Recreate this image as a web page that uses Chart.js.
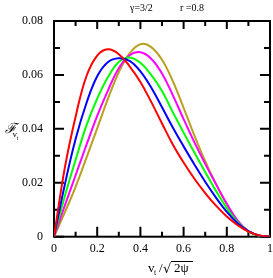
<!DOCTYPE html>
<html><head><meta charset="utf-8">
<style>html,body{margin:0;padding:0;background:#fff;overflow:hidden}canvas{display:block}</style>
<script src="https://cdn.jsdelivr.net/npm/chart.js@4.4.1/dist/chart.umd.min.js"></script>
</head><body>
<canvas id="c" width="273" height="278"></canvas>
<script>
// v_t / sqrt(2 psi)
const vt = [0,0.05,0.1,0.15,0.2,0.25,0.3,0.35,0.4,0.45,0.5,0.55,0.6,0.65,0.7,0.75,0.8,0.85,0.9,0.95,1];
const redSeries     = [0,0.0255,0.0445,0.0595,0.0672,0.0695,0.0677,0.0632,0.0574,0.0500,0.0420,0.0342,0.0275,0.0215,0.0162,0.0115,0.0075,0.0043,0.0019,0.0005,0];
const blueSeries    = [0,0.0193,0.0362,0.0495,0.0595,0.0648,0.0662,0.0652,0.0613,0.0553,0.0480,0.0405,0.0335,0.0268,0.0204,0.0145,0.0092,0.0050,0.0021,0.0005,0];
const greenSeries   = [0,0.0150,0.0285,0.0412,0.0512,0.0592,0.0648,0.0665,0.0645,0.0600,0.0540,0.0462,0.0386,0.0312,0.0240,0.0170,0.0106,0.0054,0.0020,0.0004,0];
const magentaSeries = [0,0.0115,0.0228,0.0340,0.0448,0.0543,0.0625,0.0673,0.0684,0.0660,0.0605,0.0525,0.0436,0.0350,0.0270,0.0195,0.0122,0.0060,0.0021,0.0004,0];
const oliveSeries   = [0,0.0090,0.0185,0.0292,0.0402,0.0512,0.0610,0.0680,0.0714,0.0703,0.0656,0.0577,0.0478,0.0375,0.0280,0.0195,0.0120,0.0058,0.0020,0.0003,0];

const xTickValues = [0,0.2,0.4,0.6,0.8,1];
const xTickLabels = ['0','0.2','0.4','0.6','0.8','1'];
const xMinorTicks = [0.1,0.3,0.5,0.7,0.9];
const yTickValues = [0,0.02,0.04,0.06,0.08];
const yTickLabels = ['0','0.02','0.04','0.06','0.08'];
const yMinorTicks = [0.01,0.03,0.05,0.07];

const SERIF = '"Liberation Serif","Times New Roman",serif';

function pts(arr){ return vt.map((v,i)=>({x:v,y:arr[i]})); }
function ds(arr,color){
  return {data:pts(arr), borderColor:color, backgroundColor:color, borderWidth:2,
          pointRadius:0, tension:0.4, fill:false};
}

const framePlugin = {
  id:'frame',
  beforeDatasetsDraw(chart){
    const {ctx, chartArea:{left,right,top,bottom}, scales:{x,y}} = chart;
    ctx.save();
    ctx.strokeStyle='#000';
    ctx.lineWidth=2;
    ctx.strokeRect(left,top,right-left,bottom-top);
    const MAJ=10, MIN=5;
    ctx.beginPath();
    xTickValues.forEach(v=>{const p=x.getPixelForValue(v);
      ctx.moveTo(p,bottom);ctx.lineTo(p,bottom-MAJ);ctx.moveTo(p,top);ctx.lineTo(p,top+MAJ-2);});
    xMinorTicks.forEach(v=>{const p=x.getPixelForValue(v);
      ctx.moveTo(p,bottom);ctx.lineTo(p,bottom-MIN);ctx.moveTo(p,top);ctx.lineTo(p,top+MIN);});
    yTickValues.forEach(v=>{const p=y.getPixelForValue(v);
      ctx.moveTo(left,p);ctx.lineTo(left+MAJ,p);ctx.moveTo(right,p);ctx.lineTo(right-MAJ,p);});
    yMinorTicks.forEach(v=>{const p=y.getPixelForValue(v);
      ctx.moveTo(left,p);ctx.lineTo(left+MIN+1,p);ctx.moveTo(right,p);ctx.lineTo(right-MIN-1,p);});
    ctx.stroke();
    ctx.restore();
  },
  afterDraw(chart){
    const ctx = chart.ctx;
    ctx.save();
    ctx.fillStyle='#000';
    ctx.textBaseline='alphabetic';
    ctx.textAlign='left';
    // title
    ctx.font='10px '+SERIF;
    ctx.fillText('γ=3/2',130,11);
    ctx.fillText('r =0.8',180,11);
    // y title
    ctx.font='italic 14px "DejaVu Serif",'+SERIF;
    ctx.fillText('ℱ',5,133);
    ctx.font='9px '+SERIF;
    ctx.fillText('v',12.5,137);
    ctx.font='6px '+SERIF;
    ctx.fillText('t',16.8,139.5);
    // x title
    ctx.font='13px '+SERIF;
    ctx.fillText('v',148,272);
    ctx.font='8px '+SERIF;
    ctx.fillText('t',154,275);
    ctx.font='13px '+SERIF;
    ctx.fillText('/',159,272);
    ctx.font='13px "DejaVu Sans",'+SERIF;
    ctx.fillText('√',163,273);
    ctx.font='13px '+SERIF;
    ctx.fillText('2ψ',174,272);
    ctx.lineWidth=1;
    ctx.beginPath();ctx.moveTo(171,261.5);ctx.lineTo(193,261.5);ctx.stroke();
    ctx.restore();
  }
};

new Chart(document.getElementById('c'),{
  type:'line',
  data:{datasets:[
    ds(redSeries,'#ff0000'),
    ds(blueSeries,'#0000ff'),
    ds(greenSeries,'#00ff00'),
    ds(magentaSeries,'#ff00ff'),
    ds(oliveSeries,'#b8a020')
  ]},
  options:{
    responsive:false, animation:false, devicePixelRatio:1,
    layout:{padding:{top:21,right:3,left:0,bottom:0}},
    plugins:{legend:{display:false},tooltip:{enabled:false},title:{display:false}},
    scales:{
      x:{type:'linear',min:0,max:1,
         afterBuildTicks(s){s.ticks=xTickValues.map(v=>({value:v}));},
         afterFit(s){s.height=41.3;s.paddingLeft=0;s.paddingRight=0;},
         ticks:{callback:(v,i)=>xTickLabels[i],padding:5,color:'#000',maxRotation:0,autoSkip:false,
                font:{family:SERIF,size:12}},
         grid:{display:false,drawTicks:false},border:{display:false}},
      y:{type:'linear',min:0,max:0.08,
         afterBuildTicks(s){s.ticks=yTickValues.map(v=>({value:v}));},
         afterFit(s){s.width=54;s.paddingTop=0;s.paddingBottom=0;},
         ticks:{callback:(v,i)=>yTickLabels[i],padding:11,color:'#000',autoSkip:false,
                font:{family:SERIF,size:12}},
         grid:{display:false,drawTicks:false},border:{display:false}}
    }
  },
  plugins:[framePlugin]
});
</script>
</body></html>
